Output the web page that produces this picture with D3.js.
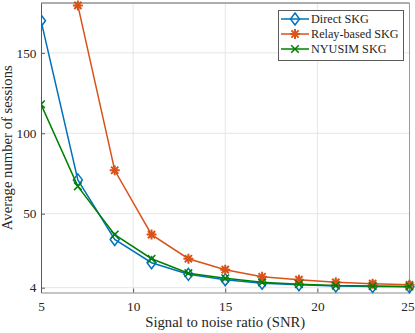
<!DOCTYPE html>
<html>
<head>
<meta charset="utf-8">
<script src="https://cdn.jsdelivr.net/npm/d3@7"></script>
<style>
  body { margin: 0; background: #fff; }
  text { font-family: "Liberation Serif", "Times New Roman", serif; fill: #262626; }
</style>
</head>
<body>
<script>
// data
let snr = [5, 7, 9, 11, 13, 15, 17, 19, 21, 23, 25];
let directSKG = [170, 71, 34, 19.5, 12.3, 9, 6.8, 5.8, 5, 4.7, 4.5];
let relaySKG = [null, 179.5, 77, 37, 22, 15.2, 10.8, 9, 7.3, 6.5, 5.8];
let nyusimSKG = [118, 67, 37, 22, 13, 9.8, 7.3, 6.2, 5.3, 5, 4.8];
let xTicks = [5, 10, 15, 20, 25];
let yTicks = [4, 50, 100, 150];
let seriesNames = ["Direct SKG", "Relay-based SKG", "NYUSIM SKG"];

let W = 415, H = 333;
let pL = 41, pR = 409.5, pT = 3, pB = 292.5;

let svg = d3.select("body").append("svg").attr("width", W).attr("height", H);

let x = d3.scaleLinear().domain([5, 25]).range([pL, pR]);
let y = d3.scaleLinear().domain([1, 181]).range([pB, pT]);

svg.append("defs").append("clipPath").attr("id", "clip")
  .append("rect").attr("x", pL).attr("y", pT - 6).attr("width", pR - pL + 6).attr("height", pB - pT + 8);

// grid
svg.append("g").selectAll("line").data(xTicks.slice(1, -1)).enter().append("line")
  .attr("x1", d => x(d)).attr("x2", d => x(d)).attr("y1", pT).attr("y2", pB)
  .attr("stroke", "#e6e6e6").attr("stroke-width", 1);
svg.append("g").selectAll("line").data(yTicks).enter().append("line")
  .attr("x1", pL).attr("x2", pR).attr("y1", d => y(d)).attr("y2", d => y(d))
  .attr("stroke", "#e6e6e6").attr("stroke-width", 1);

// box
svg.append("line").attr("x1", pL).attr("x2", pR).attr("y1", pT).attr("y2", pT).attr("stroke", "#5a5a5a");
svg.append("line").attr("x1", pR).attr("x2", pR).attr("y1", pT).attr("y2", pB).attr("stroke", "#9a9a9a");

// axes
let xAxis = svg.append("g").attr("transform", "translate(0," + pB + ")")
  .call(d3.axisBottom(x).tickValues(xTicks).tickSizeInner(-4).tickSizeOuter(0).tickPadding(9));
let yAxis = svg.append("g").attr("transform", "translate(" + pL + ",0)")
  .call(d3.axisLeft(y).tickValues(yTicks).tickSizeInner(-4).tickSizeOuter(0).tickPadding(4.5));
xAxis.select(".domain").attr("stroke", "#c4c4c4").attr("stroke-width", 2);
yAxis.select(".domain").attr("stroke", "#5a5a5a");
xAxis.selectAll(".tick line").attr("stroke", "#5a5a5a");
yAxis.selectAll(".tick line").attr("stroke", "#5a5a5a");
svg.selectAll(".tick text").attr("font-family", "Liberation Serif").attr("font-size", 13.3).attr("fill", "#262626");
// keep the last x label inside the page
xAxis.selectAll(".tick text").filter(d => d === 25).attr("dx", -2);

// axis titles
svg.append("text").attr("x", (pL + pR) / 2).attr("y", 327)
  .attr("text-anchor", "middle").attr("font-size", 14.7).text("Signal to noise ratio (SNR)");
svg.append("text").attr("transform", "translate(11.5," + (pT + pB) / 2 + ") rotate(-90)")
  .attr("text-anchor", "middle").attr("font-size", 14.7).text("Average number of sessions");

function diamond(g, cx, cy, c) {
  g.append("path").attr("d", `M${cx},${cy - 6}L${cx + 4.5},${cy}L${cx},${cy + 6}L${cx - 4.5},${cy}Z`)
    .attr("fill", "none").attr("stroke", c).attr("stroke-width", 1.5);
}
function star(g, cx, cy, c) {
  let r = 5, s = 3.6;
  g.append("path").attr("d", `M${cx - r},${cy}H${cx + r}M${cx},${cy - r}V${cy + r}M${cx - s},${cy - s}L${cx + s},${cy + s}M${cx - s},${cy + s}L${cx + s},${cy - s}`)
    .attr("fill", "none").attr("stroke", c).attr("stroke-width", 2);
}
function cross(g, cx, cy, c) {
  let s = 3.8;
  g.append("path").attr("d", `M${cx - s},${cy - s}L${cx + s},${cy + s}M${cx - s},${cy + s}L${cx + s},${cy - s}`)
    .attr("fill", "none").attr("stroke", c).attr("stroke-width", 1.5);
}

let series = [
  { name: seriesNames[0], values: directSKG, color: "#0072BD", marker: diamond },
  { name: seriesNames[1], values: relaySKG, color: "#D95319", marker: star },
  { name: seriesNames[2], values: nyusimSKG, color: "#008000", marker: cross }
];

let line = d3.line().defined(d => d[1] != null).x(d => x(d[0])).y(d => y(d[1]));
let plot = svg.append("g").attr("clip-path", "url(#clip)");

series.forEach(s => {
  let pts = snr.map((v, i) => [v, s.values[i]]);
  plot.append("path").datum(pts).attr("d", line)
    .attr("fill", "none").attr("stroke", s.color).attr("stroke-width", 1.5);
  pts.filter(d => d[1] != null).forEach(d => s.marker(plot, x(d[0]), y(d[1]), s.color));
});

// legend
let lg = svg.append("g");
lg.append("rect").attr("x", 278.5).attr("y", 10.5).attr("width", 125).attr("height", 50)
  .attr("fill", "#fff").attr("stroke", "#5a5a5a").attr("stroke-width", 1);
series.forEach((s, i) => {
  let ly = 19 + i * 15;
  lg.append("line").attr("x1", 281).attr("x2", 309).attr("y1", ly).attr("y2", ly)
    .attr("stroke", s.color).attr("stroke-width", 1.5);
  s.marker(lg, 295, ly, s.color);
  lg.append("text").attr("x", 311).attr("y", ly + 4.3).attr("font-size", 12.2).text(s.name);
});
</script>
</body>
</html>
